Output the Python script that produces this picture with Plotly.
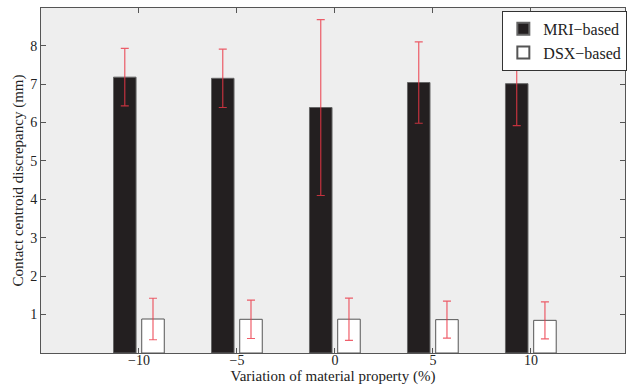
import plotly.graph_objects as go

variation = [-10, -5, 0, 5, 10]
mri_mean = [7.18, 7.15, 6.39, 7.04, 7.01]
mri_err = [0.75, 0.76, 2.29, 1.06, 1.09]
dsx_mean = [0.885, 0.877, 0.88, 0.868, 0.85]
dsx_err = [0.54, 0.50, 0.55, 0.48, 0.48]
x_ticks = [-10, -5, 0, 5, 10]
x_ticklabels = ["\u221210", "\u22125", "0", "5", "10"]
y_ticks = [1, 2, 3, 4, 5, 6, 7, 8]

FONT = "Liberation Serif, Times New Roman, serif"
err_style = dict(type="data", visible=True, color="rgba(235,55,70,0.8)", thickness=1.2, width=4)

fig = go.Figure()
fig.add_trace(go.Bar(
    x=variation, y=mri_mean, name="MRI\u2212based",
    width=1.15, offset=-1.3,
    marker=dict(color="#231f20", line=dict(color="#666666", width=1)),
    error_y=dict(array=mri_err, **err_style),
))
fig.add_trace(go.Bar(
    x=variation, y=dsx_mean, name="DSX\u2212based",
    width=1.15, offset=0.14,
    marker=dict(color="#ffffff", line=dict(color="#555555", width=1)),
    error_y=dict(array=dsx_err, **err_style),
))

axis_common = dict(showline=True, linecolor="#555555", linewidth=1, mirror="ticks",
                   ticks="inside", ticklen=5, tickcolor="#555555", showgrid=False, zeroline=False,
                   automargin=False,
                   tickfont=dict(family=FONT, size=14, color="#222222"))

fig.update_layout(
    width=633, height=388,
    margin=dict(l=41, r=6, t=8, b=35),
    paper_bgcolor="white", plot_bgcolor="#eeeeee",
    barmode="overlay",
    showlegend=True,
    font=dict(family=FONT, size=14, color="#222222"),
    xaxis=dict(range=[-15, 14.8], tickvals=x_ticks, ticktext=x_ticklabels,
               ticklabelstandoff=-6,
               title=dict(text="Variation of material property (%)", standoff=0,
                          font=dict(family=FONT, size=15)),
               **axis_common),
    yaxis=dict(range=[0, 8.98], tickvals=y_ticks,
               title=dict(text="Contact centroid discrepancy (mm)", standoff=2,
                          font=dict(family=FONT, size=15)),
               **axis_common),
    legend=dict(x=1.004, xanchor="right", y=0.992, yanchor="top",
                bgcolor="white", bordercolor="#333333", borderwidth=1,
                font=dict(family=FONT, size=16), tracegroupgap=0,
                itemwidth=30, itemsizing="constant"),
)

fig.write_html("out.html", config={"displayModeBar": False},
               post_script="document.body.style.margin='0';")
